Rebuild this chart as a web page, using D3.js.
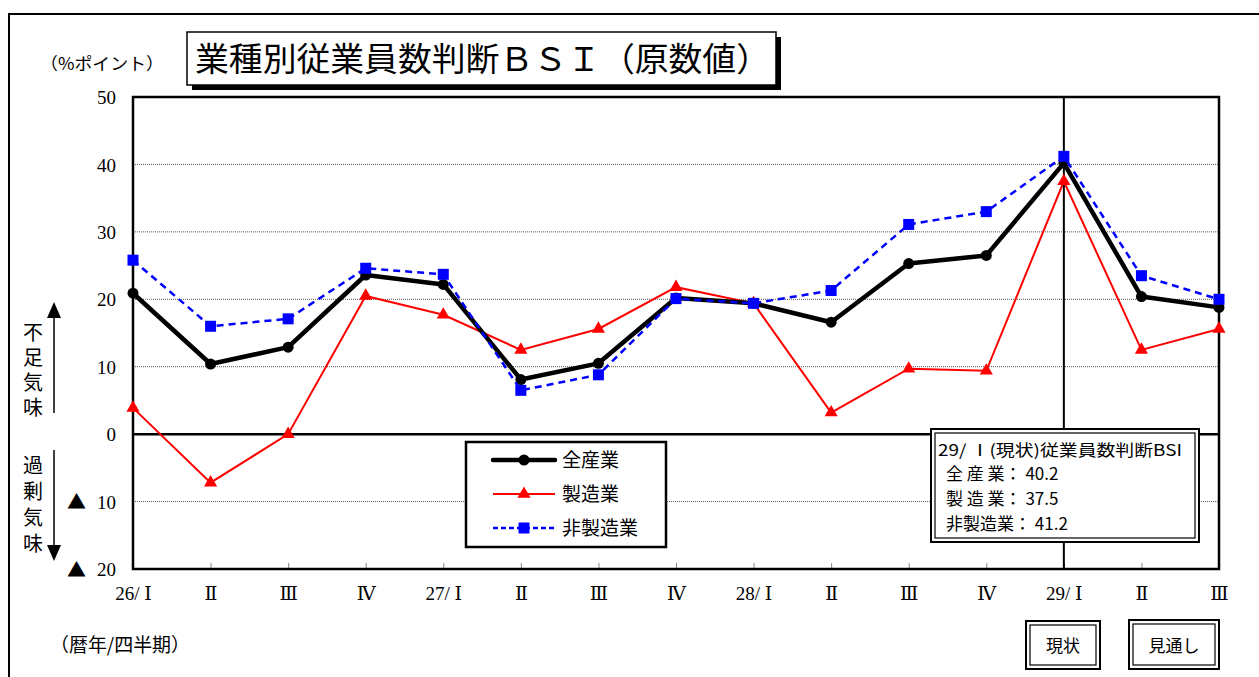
<!DOCTYPE html>
<html><head><meta charset="utf-8">
<script src="https://cdn.jsdelivr.net/npm/d3@7"></script>
<style>
html,body{margin:0;padding:0;background:#fff;}
svg{display:block;}
text{font-family:"Liberation Serif","DejaVu Serif","Noto Sans CJK JP",serif;fill:#000;}
.jp{font-family:"Noto Sans CJK JP","Liberation Serif",sans-serif;}
</style></head>
<body>
<script>
const categories = ["26/ Ⅰ","Ⅱ","Ⅲ","Ⅳ","27/ Ⅰ","Ⅱ","Ⅲ","Ⅳ","28/ Ⅰ","Ⅱ","Ⅲ","Ⅳ","29/ Ⅰ","Ⅱ","Ⅲ"];
const allIndustries = [20.9, 10.4, 12.9, 23.6, 22.2, 8.1, 10.5, 20.2, 19.4, 16.6, 25.3, 26.5, 40.2, 20.4, 18.8];
const manufacturing = [3.9, -7.2, 0.0, 20.5, 17.7, 12.5, 15.6, 21.8, 19.4, 3.2, 9.7, 9.4, 37.5, 12.5, 15.6];
const nonManufacturing = [25.8, 16.0, 17.1, 24.6, 23.7, 6.5, 8.8, 20.1, 19.4, 21.3, 31.1, 33.0, 41.2, 23.5, 20.0];
const yTicks = [50, 40, 30, 20, 10, 0, -10, -20];
const seriesNames = ["全産業", "製造業", "非製造業"];
const currentIndex = 12;
const titleText = "業種別従業員数判断ＢＳＩ（原数値）";

const W = 1259, H = 677;
const svg = d3.select("body").append("svg").attr("width", W).attr("height", H);

// outer frame
svg.append("rect").attr("x", 9).attr("y", 14).attr("width", 1300).attr("height", 700)
  .attr("fill", "none").attr("stroke", "#000").attr("stroke-width", 2);

const pL = 133, pR = 1219, pT = 97, pB = 569;
const x = d3.scalePoint().domain(d3.range(categories.length)).range([pL, pR]).padding(0);
const y = d3.scaleLinear().domain([-20, 50]).range([pB, pT]);

// gridlines
const grid = svg.append("g");
yTicks.filter(t => t !== 50 && t !== -20 && t !== 0).forEach(t => {
  grid.append("line").attr("x1", pL).attr("x2", pR).attr("y1", y(t)).attr("y2", y(t))
    .attr("stroke", "#555").attr("stroke-width", 1).attr("stroke-dasharray", "1,1");
});

// y axis labels via d3 axis
const yAxis = d3.axisLeft(y).tickValues(yTicks).tickSize(0).tickPadding(17)
  .tickFormat(d => String(Math.abs(d)));
const yg = svg.append("g").attr("transform", `translate(${pL},0)`).call(yAxis);
yg.select(".domain").remove();
yg.selectAll("text").attr("font-size", 19).attr("font-family", "Liberation Serif, serif").attr("fill", "#000").attr("dy", "0.35em");
yg.selectAll(".tick").filter(d => d < 0).append("text")
  .attr("class", "jp").attr("x", -47).attr("dy", "0.38em").attr("font-size", 19)
  .attr("text-anchor", "end").attr("fill", "#000").text("▲");

// x axis with small inner ticks
const xAxis = d3.axisBottom(x).tickSize(0).tickPadding(20).tickFormat(i => categories[i]);
const xg = svg.append("g").attr("transform", `translate(0,${pB})`).call(xAxis);
xg.select(".domain").remove();
xg.selectAll("text").attr("font-size", 19).attr("font-family", "Liberation Serif, DejaVu Serif, serif").attr("fill", "#000").attr("dy", "0.6em");
xg.selectAll(".tick").append("line").attr("y1", 0).attr("y2", -6).attr("stroke", "#888").attr("stroke-width", 1);

// zero line
svg.append("line").attr("x1", pL).attr("x2", pR).attr("y1", y(0)).attr("y2", y(0))
  .attr("stroke", "#000").attr("stroke-width", 2.5);

// current-period vertical line
svg.append("line").attr("x1", x(currentIndex)).attr("x2", x(currentIndex)).attr("y1", pT).attr("y2", pB)
  .attr("stroke", "#000").attr("stroke-width", 2);

// plot border
svg.append("rect").attr("x", pL).attr("y", pT).attr("width", pR - pL).attr("height", pB - pT)
  .attr("fill", "none").attr("stroke", "#000").attr("stroke-width", 2.5);

const line = d3.line().x((d, i) => x(i)).y(d => y(d));

// manufacturing (red)
svg.append("path").datum(manufacturing).attr("d", line).attr("fill", "none").attr("stroke", "#ff0000").attr("stroke-width", 2);
const triSym = d3.symbol().type(d3.symbolTriangle).size(75);
svg.append("g").selectAll("path").data(manufacturing).join("path")
  .attr("d", triSym).attr("transform", (d, i) => `translate(${x(i)},${y(d)})`).attr("fill", "#ff0000");

// all industries (black)
svg.append("path").datum(allIndustries).attr("d", line).attr("fill", "none").attr("stroke", "#000").attr("stroke-width", 4.5).attr("stroke-linejoin", "round");
svg.append("g").selectAll("circle").data(allIndustries).join("circle")
  .attr("cx", (d, i) => x(i)).attr("cy", d => y(d)).attr("r", 5.5).attr("fill", "#000");

// non-manufacturing (blue dashed)
svg.append("path").datum(nonManufacturing).attr("d", line).attr("fill", "none").attr("stroke", "#0000ff").attr("stroke-width", 2.5).attr("stroke-dasharray", "7,5");
svg.append("g").selectAll("rect").data(nonManufacturing).join("rect")
  .attr("x", (d, i) => x(i) - 5.5).attr("y", d => y(d) - 5.5).attr("width", 11).attr("height", 11).attr("fill", "#0000ff");

// title box with shadow
svg.append("rect").attr("x", 192).attr("y", 37).attr("width", 589).attr("height", 53).attr("fill", "#000");
svg.append("rect").attr("x", 187).attr("y", 32).attr("width", 589).attr("height", 53).attr("fill", "#fff").attr("stroke", "#000").attr("stroke-width", 1.5);
svg.append("text").attr("class", "jp").attr("x", 195).attr("y", 71).attr("font-size", 33)
  .attr("textLength", 575).attr("lengthAdjust", "spacingAndGlyphs").text(titleText);

// unit label
svg.append("text").attr("class", "jp").attr("x", 40).attr("y", 70).attr("font-size", 17).attr("fill", "#333").text("（%ポイント）")
  .attr("textLength", 124).attr("lengthAdjust", "spacingAndGlyphs");
// period label
svg.append("text").attr("class", "jp").attr("x", 50).attr("y", 652).attr("font-size", 19).attr("fill", "#333").text("（暦年/四半期）")
  .attr("textLength", 140).attr("lengthAdjust", "spacingAndGlyphs");

// side labels (vertical text) with arrows
svg.append("text").attr("class", "jp").attr("x", 33).attr("y", 322).attr("font-size", 20)
  .style("writing-mode", "vertical-rl").style("letter-spacing", "5px").attr("fill", "#333").text("不足気味");
svg.append("text").attr("class", "jp").attr("x", 33).attr("y", 455).attr("font-size", 20)
  .style("writing-mode", "vertical-rl").style("letter-spacing", "6px").attr("fill", "#333").text("過剰気味");
svg.append("line").attr("x1", 54).attr("x2", 54).attr("y1", 413).attr("y2", 312).attr("stroke", "#000").attr("stroke-width", 1.5);
svg.append("path").attr("d", "M54,302 L47,318 L61,318 Z").attr("fill", "#000");
svg.append("line").attr("x1", 54).attr("x2", 54).attr("y1", 450).attr("y2", 550).attr("stroke", "#000").attr("stroke-width", 1.5);
svg.append("path").attr("d", "M54,561 L47,545 L61,545 Z").attr("fill", "#000");

// legend
const lg = svg.append("g");
lg.append("rect").attr("x", 466).attr("y", 442).attr("width", 200).attr("height", 105).attr("fill", "#fff").attr("stroke", "#000").attr("stroke-width", 2.5);
const legendYs = [460, 494, 528];
seriesNames.forEach((name, i) => {
  const ly = legendYs[i];
  const l = lg.append("line").attr("x1", 493).attr("x2", 555).attr("y1", ly).attr("y2", ly);
  if (i === 0) {
    l.attr("stroke", "#000").attr("stroke-width", 4.5).attr("stroke-linecap", "round");
    lg.append("circle").attr("cx", 524).attr("cy", ly).attr("r", 5.5).attr("fill", "#000");
  } else if (i === 1) {
    l.attr("stroke", "#ff0000").attr("stroke-width", 2);
    lg.append("path").attr("d", triSym).attr("transform", `translate(524,${ly})`).attr("fill", "#ff0000");
  } else {
    l.attr("stroke", "#0000ff").attr("stroke-width", 2.5).attr("stroke-dasharray", "5,3");
    lg.append("rect").attr("x", 518.5).attr("y", ly - 5.5).attr("width", 11).attr("height", 11).attr("fill", "#0000ff");
  }
  lg.append("text").attr("class", "jp").attr("x", 562).attr("y", ly + 7).attr("font-size", 19).text(name);
});

// double-bordered box helper
function doubleBox(x0, y0, w, h) {
  svg.append("rect").attr("x", x0).attr("y", y0).attr("width", w).attr("height", h).attr("fill", "#fff").attr("stroke", "#000").attr("stroke-width", 2);
  svg.append("rect").attr("x", x0 + 4).attr("y", y0 + 4).attr("width", w - 8).attr("height", h - 8).attr("fill", "none").attr("stroke", "#000").attr("stroke-width", 1.2);
}

// annotation box
doubleBox(931, 429, 268, 113);
const currentVals = [allIndustries[currentIndex], manufacturing[currentIndex], nonManufacturing[currentIndex]];
svg.append("text").attr("class", "jp").attr("x", 938).attr("y", 456).attr("font-size", 16)
  .attr("textLength", 244).attr("lengthAdjust", "spacingAndGlyphs")
  .text(categories[currentIndex] + "(現状)従業員数判断BSI");
const annoLabels = ["全 産 業：", "製 造 業：", "非製造業："];
annoLabels.forEach((lab, i) => {
  svg.append("text").attr("class", "jp").attr("x", 946).attr("y", 480 + i * 25).attr("font-size", 17).attr("fill", "#222")
    .text(lab + " " + currentVals[i].toFixed(1));
});

// bottom boxes
doubleBox(1026, 621, 74, 48);
svg.append("text").attr("class", "jp").attr("x", 1063).attr("y", 652).attr("font-size", 17).attr("text-anchor", "middle").text("現状");
doubleBox(1129, 620, 90, 49);
svg.append("text").attr("class", "jp").attr("x", 1174).attr("y", 652).attr("font-size", 17).attr("text-anchor", "middle").text("見通し");
</script>
</body></html>
